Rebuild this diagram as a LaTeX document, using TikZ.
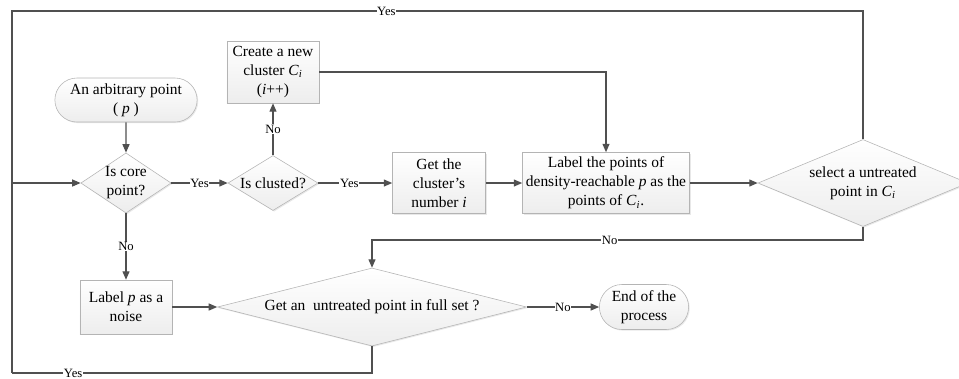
\documentclass[tikz,border=0pt]{standalone}
\usepackage{fontspec}
\setmainfont{Liberation Serif}
\usetikzlibrary{arrows.meta,shapes.geometric,shapes.misc,shadows}
\definecolor{linegray}{HTML}{505050}
\definecolor{edgegray}{HTML}{B4B4B4}
\definecolor{boxgray}{HTML}{EDEDED}
\newcommand{\clusterCi}{\textit{C}\textsubscript{\textit{i}}}
\begin{document}
\begin{tikzpicture}[x=0.025cm,y=-0.025cm,
  every node/.style={font=\fontsize{11}{13.5}\selectfont},
  base/.style={draw=edgegray,top color=white,bottom color=boxgray,align=center,inner sep=1pt,
    drop shadow={opacity=0.18,shadow xshift=0.8pt,shadow yshift=-0.8pt}},
  procbox/.style={base,rectangle},
  termbox/.style={base,rounded rectangle},
  decision/.style={base,diamond,aspect=3,inner sep=0pt},
  flow/.style={draw=linegray,line width=0.8pt,-{Triangle[length=6pt,width=5pt]}},
  link/.style={draw=linegray,line width=0.8pt},
  tag/.style={fill=white,inner sep=0.5pt,font=\fontsize{9}{10}\selectfont}]
\useasboundingbox (0,0) rectangle (959,378);
\node[termbox,minimum width=3.625cm,minimum height=1.1cm] (start) at (126,100) {An arbitrary point\\( \textit{p} )};
\node[decision,aspect=1.5,minimum width=2.2cm,minimum height=1.475cm] (core) at (126,183) {Is core\\point?};
\node[decision,aspect=1.6,minimum width=2.25cm,minimum height=1.375cm] (clusted) at (273,183) {Is clusted?};
\node[procbox,minimum width=2.3cm,minimum height=1.55cm] (create) at (273,72) {Create a new\\cluster \clusterCi\\(\textit{i}++)};
\node[procbox,minimum width=2.325cm,minimum height=1.525cm] (getnum) at (439,183) {Get the\\cluster's\\number \textit{i}};
\node[procbox,minimum width=4.175cm,minimum height=1.525cm] (labelpts) at (606,183) {Label the points of\\density-reachable \textit{p} as the\\points of \clusterCi.};
\node[decision,minimum width=5.25cm,minimum height=2.175cm] (select) at (863,183) {select a untreated\\point in \clusterCi};
\node[procbox,minimum width=2.3cm,minimum height=1.35cm] (noise) at (126,307) {Label \textit{p} as a\\noise};
\node[decision,aspect=4,minimum width=7.725cm,minimum height=1.95cm] (untreated) at (372,307) {Get an \ untreated point in full set ?};
\node[termbox,minimum width=2.3cm,minimum height=1.125cm] (end) at (644,307) {End of the\\process};
\coordinate (tl) at (12,11);
\coordinate (inl) at (12,183);
\coordinate (bl) at (12,373);
\coordinate (selno) at (863,240);
% main line
\draw[flow] (start) -- (core);
\draw[flow] (core) -- node[tag] {Yes} (clusted);
\draw[flow] (clusted) -- node[tag] {No} (create);
\draw[flow] (create.east) -| (labelpts.north);
\draw[flow] (clusted) -- node[tag,pos=0.42] {Yes} (getnum);
\draw[flow] (getnum) -- (labelpts);
\draw[flow] (labelpts) -- (select);
% loops back
\draw[link] (select.north) |- node[tag,pos=0.78] {Yes} (tl) -- (bl);
\draw[link] (untreated.south) |- node[tag,pos=0.915] {Yes} (bl);
\draw[flow] (inl) -- (core.west);
\draw[flow] (select.south) -- (selno) -| node[tag,pos=0.258] {No} (untreated.north);
% lower part
\draw[flow] (core) -- node[tag] {No} (noise);
\draw[flow] (noise) -- (untreated);
\draw[flow] (untreated) -- node[tag] {No} (end);
\end{tikzpicture}
\end{document}
